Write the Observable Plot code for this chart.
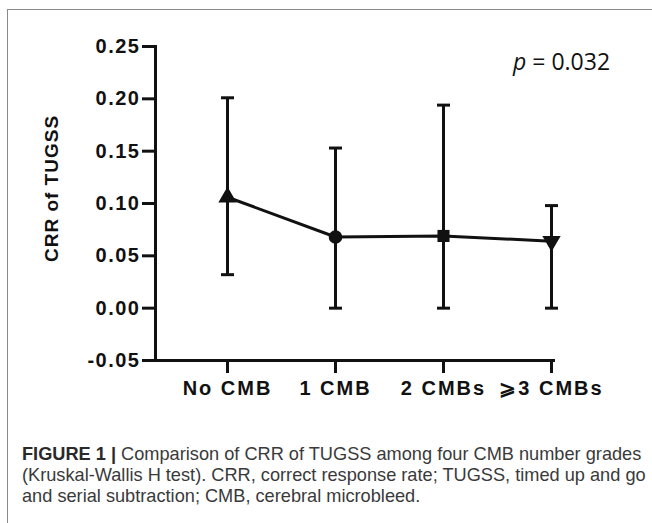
<!DOCTYPE html>
<html>
<head>
<meta charset="utf-8">
<script src="https://cdn.jsdelivr.net/npm/d3@7"></script>
<script src="https://cdn.jsdelivr.net/npm/@observablehq/plot@0.6"></script>
<style>
  html, body { margin: 0; padding: 0; background: #fff; }
  body { width: 652px; height: 523px; position: relative; overflow: hidden; font-family: "Liberation Sans", Arial, sans-serif; }
  #box { position: absolute; left: 7px; top: 9px; width: 700px; height: 600px; border-top: 1.5px solid #8a8a8a; border-left: 1.5px solid #8a8a8a; }
  #chart { position: absolute; left: 0; top: 0; }
  #pval { position: absolute; left: 513px; top: 45px; font-family: "Open Sans", sans-serif; font-size: 23px; color: #111; white-space: nowrap; }
  #caption { position: absolute; left: 22px; top: 444px; font-size: 18.2px; line-height: 21px; color: #3a3a3a; white-space: nowrap; }
  #caption b { color: #2a2a2a; }
  g[aria-label="y-axis tick label"] text { letter-spacing: 1.5px; }
  g[aria-label="x-axis tick label"] text { letter-spacing: 2px; }
  g[aria-label="text"] text { letter-spacing: 1px; }
</style>
</head>
<body>
<div id="box"></div>
<div id="chart"></div>
<div id="pval"><i>p</i> = 0.032</div>
<div id="caption"><b>FIGURE 1 |</b> Comparison of CRR of TUGSS among four CMB number grades<br>(Kruskal-Wallis H test). CRR, correct response rate; TUGSS, timed up and go<br>and serial subtraction; CMB, cerebral microbleed.</div>
<script>
// Data
const groups = ["No CMB", "1 CMB", "2 CMBs", "\u2A7E3 CMBs"];
const means  = [0.106, 0.068, 0.069, 0.064];
const lower  = [0.032, 0.000, 0.000, 0.000];
const upper  = [0.201, 0.153, 0.194, 0.098];
const yTicks = [-0.05, 0.00, 0.05, 0.10, 0.15, 0.20, 0.25];
const yTitle = "CRR of TUGSS";

const rows = groups.map((g, i) => ({group: g, mean: means[i], lo: lower[i], hi: upper[i]}));

const sqrt3 = Math.sqrt(3);
const triangleDown = {
  draw(context, size) {
    const y = -Math.sqrt(size / (sqrt3 * 3));
    context.moveTo(0, -y * 2);
    context.lineTo(-sqrt3 * y, y);
    context.lineTo(sqrt3 * y, y);
    context.closePath();
  }
};
// horizontal error-bar cap
const cap = {
  draw(context, size) {
    const w = Math.sqrt(size / Math.PI);
    context.moveTo(-w, 0);
    context.lineTo(w, 0);
  }
};

const ink = "#111";
const chart = Plot.plot({
  width: 652,
  height: 410,
  marginLeft: 155,
  marginRight: 99,
  marginTop: 46,
  marginBottom: 50,
  style: {background: "transparent", color: ink, fontFamily: "'Liberation Sans', Arial, sans-serif"},
  x: {type: "point", domain: groups, range: [227, 551], padding: 0},
  y: {domain: [-0.05, 0.25]},
  symbol: {domain: groups, range: [d3.symbolTriangle, d3.symbolCircle, d3.symbolSquare, triangleDown]},
  marks: [
    Plot.axisY({ticks: yTicks, tickFormat: d => d.toFixed(2), tickSize: 13, tickPadding: 2, strokeWidth: 3, stroke: ink, fontSize: 20, fontWeight: "bold", label: null}),
    Plot.axisX({tickSize: 13, tickPadding: 7, strokeWidth: 3, stroke: ink, fontSize: 20, fontWeight: "bold", label: null}),
    Plot.frame({anchor: "left", stroke: ink, strokeWidth: 3}),
    Plot.frame({anchor: "bottom", stroke: ink, strokeWidth: 3}),
    Plot.ruleX(rows, {x: "group", y1: "lo", y2: "hi", stroke: ink, strokeWidth: 3}),
    Plot.dot(rows, {x: "group", y: "hi", symbol: cap, r: 6.5, fill: "none", stroke: ink, strokeWidth: 3}),
    Plot.dot(rows, {x: "group", y: "lo", symbol: cap, r: 6.5, fill: "none", stroke: ink, strokeWidth: 3}),
    Plot.line(rows, {x: "group", y: "mean", stroke: ink, strokeWidth: 3}),
    Plot.dot(rows, {x: "group", y: "mean", symbol: "group", fill: ink, stroke: "none", r: 6.8}),
    Plot.text([yTitle], {frameAnchor: "left", textAnchor: "middle", rotate: -90, dx: -104, dy: -15, fontSize: 19, fontWeight: "bold", fill: ink})
  ]
});
document.getElementById("chart").appendChild(chart);
</script>
</body>
</html>
